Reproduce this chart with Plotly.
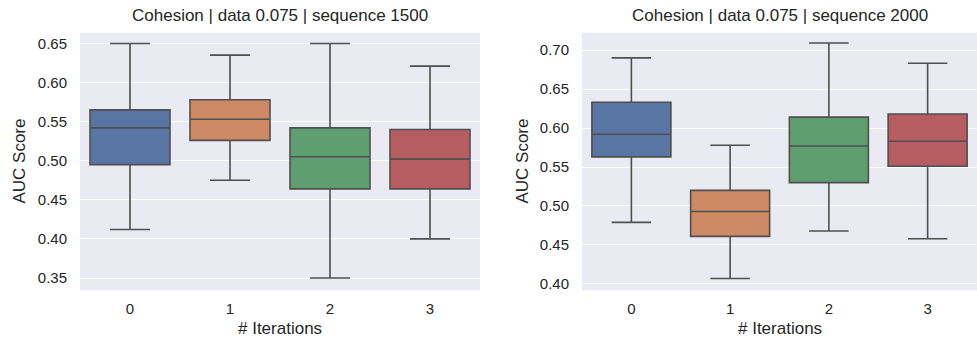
import plotly.graph_objects as go

# Box statistics per iteration count (AUC scores)
iterations = [0, 1, 2, 3]
tick_labels = ["0", "1", "2", "3"]

seq1500_lower = [0.412, 0.475, 0.350, 0.400]
seq1500_q1 = [0.495, 0.526, 0.464, 0.464]
seq1500_median = [0.542, 0.553, 0.505, 0.502]
seq1500_q3 = [0.565, 0.578, 0.542, 0.540]
seq1500_upper = [0.650, 0.635, 0.650, 0.621]

seq2000_lower = [0.479, 0.407, 0.468, 0.458]
seq2000_q1 = [0.563, 0.461, 0.530, 0.551]
seq2000_median = [0.592, 0.493, 0.577, 0.583]
seq2000_q3 = [0.633, 0.520, 0.614, 0.618]
seq2000_upper = [0.690, 0.578, 0.709, 0.683]

titles = ["Cohesion | data 0.075 | sequence 1500",
          "Cohesion | data 0.075 | sequence 2000"]

box_colors = ["#5975a4", "#cc8963", "#5f9e6e", "#b55d60"]
line_color = "#4f4f4f"
text_color = "#262626"
font_family = "Liberation Sans, Arial, sans-serif"

panels = [
    dict(lower=seq1500_lower, q1=seq1500_q1, med=seq1500_median, q3=seq1500_q3,
         upper=seq1500_upper, xaxis="x", yaxis="y"),
    dict(lower=seq2000_lower, q1=seq2000_q1, med=seq2000_median, q3=seq2000_q3,
         upper=seq2000_upper, xaxis="x2", yaxis="y2"),
]

fig = go.Figure()
for p in panels:
    for i, it in enumerate(iterations):
        fig.add_trace(go.Box(
            x=[it], q1=[p["q1"][i]], median=[p["med"][i]], q3=[p["q3"][i]],
            lowerfence=[p["lower"][i]], upperfence=[p["upper"][i]],
            width=0.8, whiskerwidth=0.5,
            fillcolor=box_colors[i],
            line=dict(color=line_color, width=1.6),
            boxpoints=False, showlegend=False, hoverinfo="skip",
            xaxis=p["xaxis"], yaxis=p["yaxis"],
        ))

x_dom1 = [80 / 977, 480 / 977]
x_dom2 = [582 / 977, 1.0]
y_dom = [1 - 292 / 342, 1 - 33 / 342]

common_x = dict(range=[-0.5, 3.5], tickvals=iterations, ticktext=tick_labels,
                showgrid=False, zeroline=False, showline=False,
                ticks="", ticklabelstandoff=8,
                tickfont=dict(size=15, color=text_color, family=font_family))
common_y = dict(showgrid=True, gridcolor="white", gridwidth=1.2, zeroline=False,
                showline=False, ticks="", ticklabelstandoff=12,
                tickformat=".2f",
                tickfont=dict(size=15, color=text_color, family=font_family))

fig.update_layout(
    width=977, height=342,
    margin=dict(l=0, r=0, t=0, b=0),
    paper_bgcolor="white",
    plot_bgcolor="#eaeaf2",
    boxmode="overlay",
    xaxis=dict(domain=x_dom1, anchor="y", **common_x),
    yaxis=dict(domain=y_dom, anchor="x", range=[0.3343, 0.6636], dtick=0.05,
               tick0=0.35, **common_y),
    xaxis2=dict(domain=x_dom2, anchor="y2", **common_x),
    yaxis2=dict(domain=y_dom, anchor="x2", range=[0.3919, 0.7221], dtick=0.05,
                tick0=0.40, **common_y),
    font=dict(family=font_family, color=text_color),
)

annotations = []
for dom, title in zip([x_dom1, x_dom2], titles):
    cx = (dom[0] + dom[1]) / 2
    annotations.append(dict(text=title, x=cx, y=1 - 16 / 342, xref="paper", yref="paper",
                            showarrow=False, xanchor="center", yanchor="middle",
                            font=dict(size=17, color=text_color, family=font_family)))
    annotations.append(dict(text="# Iterations", x=cx, y=1 - 330 / 342, xref="paper",
                            yref="paper", showarrow=False, xanchor="center",
                            yanchor="middle",
                            font=dict(size=17, color=text_color, family=font_family)))
for xpix in [20, 523]:
    annotations.append(dict(text="AUC Score", x=xpix / 977, y=(y_dom[0] + y_dom[1]) / 2,
                            xref="paper", yref="paper", showarrow=False, textangle=-90,
                            xanchor="center", yanchor="middle",
                            font=dict(size=17, color=text_color, family=font_family)))
fig.update_layout(annotations=annotations)

fig.write_html("out.html")
